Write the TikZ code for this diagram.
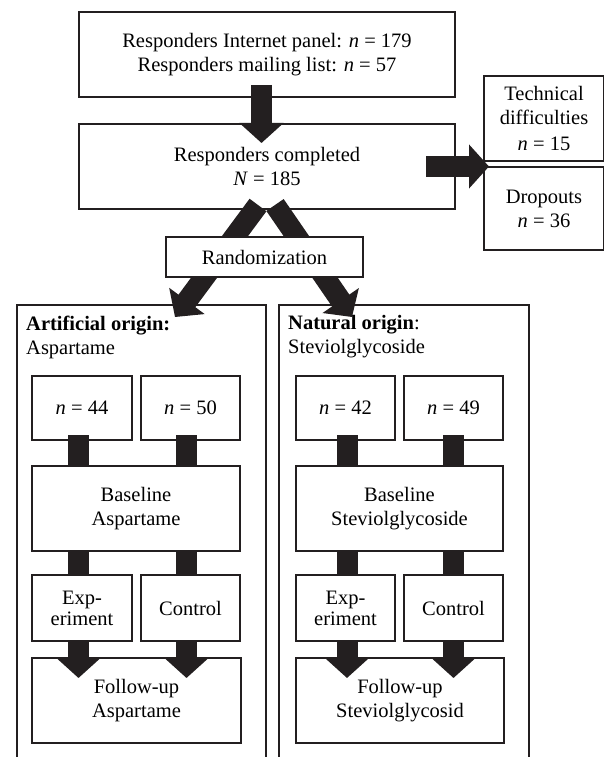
\documentclass[tikz,border=0pt]{standalone}
\usepackage{fontspec}
\setmainfont{Liberation Serif}
\usetikzlibrary{arrows.meta, positioning, calc}
\definecolor{mydark}{RGB}{35,31,32}
\tikzset{
  box/.style={rectangle, draw=mydark, fill=white, align=center,
    inner sep=0pt, outer sep=0pt, line width=1.2pt},
  grpbox/.style={rectangle, draw=mydark, outer sep=0pt, line width=1.4pt,
    minimum height=475pt},
  grplabel/.style={anchor=west, align=left, inner sep=0pt},
  bar/.style={line width=21pt, color=mydark},
  bigarrow/.style={line width=21pt, color=mydark,
    -{Triangle[length=20pt, width=43pt]}}
}

\begin{document}
\begin{tikzpicture}[x=1pt, y=-1pt, font=\fontsize{20.5}{24}\selectfont]
  \useasboundingbox (0,0) rectangle (604,757);
  % intake
  \node[box, minimum width=376pt, minimum height=85pt] (top) at (267,54.5)
    {Responders Internet panel: \textit{n} = 179\\Responders mailing list: \textit{n} = 57};
  \node[box, minimum width=376pt, minimum height=85pt, below=27pt of top] (done)
    {Responders completed\\\textit{N} = 185};
  \node[box, minimum width=120pt, minimum height=85pt] (tech) at (544,118.5)
    {Technical\\difficulties\\[2pt]\textit{n} = 15};
  \node[box, minimum width=120pt, minimum height=83pt, below=6pt of tech] (drop)
    {Dropouts\\\textit{n} = 36};
  % the two groups
  \node[grpbox, minimum width=249pt] (grpA) at (141.5,542.5) {};
  \node[grpbox, minimum width=250pt, right=13pt of grpA] (grpB) {};
  \node[grplabel] (labA) at ([xshift=9pt, yshift=-32pt]grpA.north west)
    {\textbf{Artificial origin:}\\Aspartame};
  \node[grplabel] (labB) at ([xshift=9pt, yshift=-32pt]grpB.north west)
    {\textbf{Natural origin}:\\Steviolglycoside};
  % aspartame
  \node[box, minimum width=100pt, minimum height=64pt] (nA1) at (82,408) {\textit{n} = 44};
  \node[box, minimum width=99pt, minimum height=64pt, right=9pt of nA1] (nA2) {\textit{n} = 50};
  \node[box, minimum width=208pt, minimum height=85pt,
    below=26pt of nA1.south west, anchor=north west] (baseA) {Baseline\\Aspartame};
  \node[box, minimum width=100pt, minimum height=66pt,
    below=24pt of baseA.south west, anchor=north west] (expA) {Exp-\\[-3pt]eriment};
  \node[box, minimum width=99pt, minimum height=66pt, right=9pt of expA] (ctlA) {Control};
  \node[box, minimum width=209pt, minimum height=85pt,
    below=17pt of expA.south west, anchor=north west] (fupA) {Follow-up\\Aspartame};
  % steviolglycoside
  \node[box, minimum width=99pt, minimum height=64pt] (nB1) at (345.5,408) {\textit{n} = 42};
  \node[box, minimum width=99pt, minimum height=64pt, right=9pt of nB1] (nB2) {\textit{n} = 49};
  \node[box, minimum width=207pt, minimum height=85pt,
    below=26pt of nB1.south west, anchor=north west] (baseB) {Baseline\\Steviolglycoside};
  \node[box, minimum width=99pt, minimum height=66pt,
    below=24pt of baseB.south west, anchor=north west] (expB) {Exp-\\[-3pt]eriment};
  \node[box, minimum width=99pt, minimum height=66pt, right=9pt of expB] (ctlB) {Control};
  \node[box, minimum width=208pt, minimum height=85pt,
    below=17pt of expB.south west, anchor=north west] (fupB) {Follow-up\\Steviolglycosid};
  % connectors
  \draw[bigarrow] ([xshift=-5.5pt, yshift=12pt]top.south) -- ([xshift=-5.5pt, yshift=-19pt]done.north);
  \draw[bigarrow] ([xshift=-29pt]done.east) -- ([xshift=5pt]done.east -| tech.west);
  \draw[bigarrow] ([xshift=-9pt, yshift=4pt]done.south) -- ([xshift=33.5pt, yshift=-12pt]grpA.north);
  \draw[bigarrow] ([xshift=8pt, yshift=4pt]done.south) -- ([xshift=-52pt, yshift=-12pt]grpB.north);
  \node[box, minimum width=197pt, minimum height=40pt] (rand) at (264.5,257) {Randomization};
  \draw[bar] ([xshift=-3.5pt, yshift=5pt]nA1.south) -- ([xshift=-3.5pt]nA1.south |- baseA.north);
  \draw[bar] ([xshift=-4pt, yshift=5pt]nA2.south) -- ([xshift=-4pt]nA2.south |- baseA.north);
  \draw[bar] ([xshift=-3.5pt]expA.north |- baseA.south) -- ([xshift=-3.5pt]expA.north);
  \draw[bar] ([xshift=-4pt]ctlA.north |- baseA.south) -- ([xshift=-4pt]ctlA.north);
  \draw[bigarrow] ([xshift=-3.5pt]expA.south) -- ([xshift=-3.5pt, yshift=-20pt]expA.south |- fupA.north);
  \draw[bigarrow] ([xshift=-4pt]ctlA.south) -- ([xshift=-4pt, yshift=-20pt]ctlA.south |- fupA.north);
  \draw[bar] ([xshift=1.5pt, yshift=5pt]nB1.south) -- ([xshift=1.5pt]nB1.south |- baseB.north);
  \draw[bar] ([yshift=5pt]nB2.south) -- (nB2.south |- baseB.north);
  \draw[bar] ([xshift=1.5pt]expB.north |- baseB.south) -- ([xshift=1.5pt]expB.north);
  \draw[bar] (ctlB.north |- baseB.south) -- (ctlB.north);
  \draw[bigarrow] ([xshift=1.5pt]expB.south) -- ([xshift=1.5pt, yshift=-20pt]expB.south |- fupB.north);
  \draw[bigarrow] (ctlB.south) -- ([yshift=-20pt]ctlB.south |- fupB.north);
\end{tikzpicture}
\end{document}
